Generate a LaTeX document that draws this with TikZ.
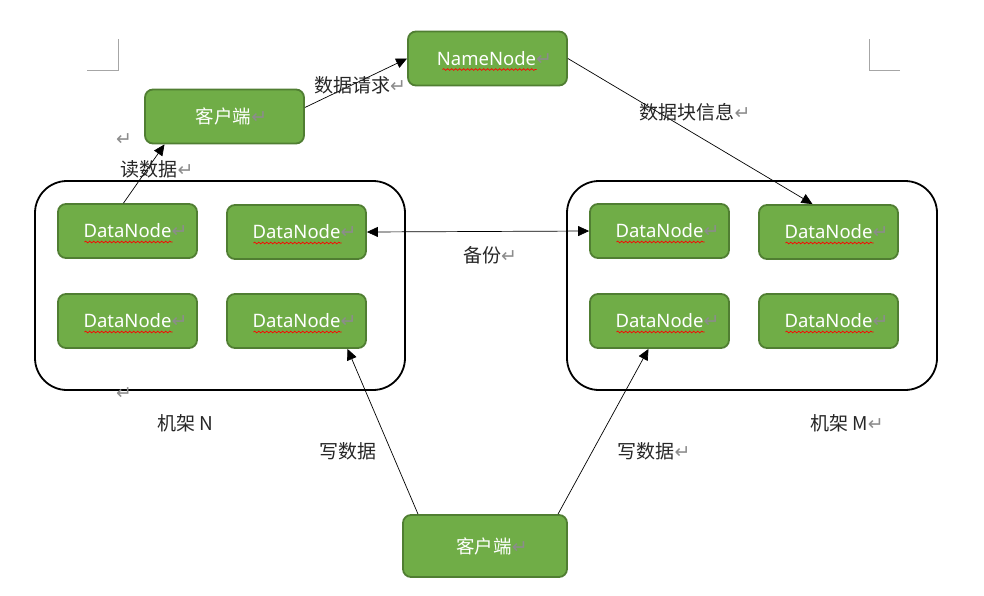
\documentclass[tikz,border=0pt]{standalone}
\usepackage{fontspec}
\setmainfont{Noto Sans}
\newfontfamily\cjk{Noto Sans CJK SC}
\newfontfamily\symfont{DejaVu Sans}
\usetikzlibrary{arrows.meta}
\usetikzlibrary{decorations.pathmorphing}

\definecolor{nodegreen}{HTML}{70AD47}
\definecolor{nodeborder}{HTML}{507E32}
\newcommand{\ret}{{\symfont\fontsize{19}{19}\selectfont\color{black!45}↵}}

\tikzset{
  greenbox/.style={draw=nodeborder, fill=nodegreen, line width=1.8pt, rounded corners=8pt,
    minimum width=139pt, minimum height=54pt, text=white, font=\fontsize{18.5}{21}\selectfont},
  rack/.style={draw, line width=1.8pt, rounded corners=32pt},
  link/.style={line width=0.7pt, -{Triangle[width=10pt,length=11pt]}},
  squiggle/.style={draw=red, line width=0.7pt, decorate,
    decoration={snake, amplitude=0.9pt, segment length=4pt}},
  lbl/.style={font=\fontsize{19}{22}\selectfont\cjk, text=black!85}
}

\begin{document}
\begin{tikzpicture}[x=1pt,y=-1pt]
  \useasboundingbox (0,0) rectangle (984,595);

  % page corner marks
  \draw[gray!70, line width=0.8pt] (87,70) -- (118,70) -- (118,39);
  \draw[gray!70, line width=0.8pt] (900,70) -- (869,70) -- (869,39);

  % racks
  \draw[rack] (35,181) rectangle (405,390);
  \draw[rack] (567,181) rectangle (937,390);

  % name node and clients
  \node[greenbox, minimum width=159pt] (namenode) at (487.5,58.5) {\hspace{14pt}NameNode\ret};
  \node[greenbox, minimum width=159pt] (client1) at (224.5,116.5) {\hspace{14pt}\cjk 客户端\ret};
  \node[greenbox, minimum width=164pt, minimum height=62pt] (client2) at (485,546) {\hspace{14pt}\cjk 客户端\ret};

  % data nodes
  \node[greenbox] (dn1) at (127.5,231) {\hspace{16pt}DataNode\ret};
  \node[greenbox] (dn2) at (296.5,232) {\hspace{16pt}DataNode\ret};
  \node[greenbox] (dn3) at (127.5,321) {\hspace{16pt}DataNode\ret};
  \node[greenbox] (dn4) at (296.5,321) {\hspace{16pt}DataNode\ret};
  \node[greenbox] (dn5) at (659.5,231) {\hspace{16pt}DataNode\ret};
  \node[greenbox] (dn6) at (828.5,232) {\hspace{16pt}DataNode\ret};
  \node[greenbox] (dn7) at (659.5,321) {\hspace{16pt}DataNode\ret};
  \node[greenbox] (dn8) at (828.5,321) {\hspace{16pt}DataNode\ret};

  % spelling marks
  \foreach \n in {dn1,dn2,dn3,dn4,dn5,dn6,dn7,dn8}
    \draw[squiggle] (\n.center) ++(-43,11) -- ++(88,0);
  \draw[squiggle] (namenode.center) ++(-45,11) -- ++(94,0);

  % connectors
  \draw[link] ([xshift=-4pt]dn1.north) -- ([xshift=-60pt]client1.south);
  \draw[link] ([yshift=9pt]client1.east) -- (namenode.west);
  \draw[link] (namenode.east) -- ([xshift=-16pt]dn6.north);
  \draw[line width=0.7pt, {Triangle[width=10pt,length=11pt]}-{Triangle[width=10pt,length=11pt]}] (dn2.east) -- (dn5.west);
  \draw[link] ([xshift=-67pt]client2.north) -- ([xshift=51pt]dn4.south);
  \draw[link] ([xshift=73pt]client2.north) -- ([xshift=-11pt]dn7.south);

  % labels
  \node[lbl] (lrequest) at (360,85) {数据请求\ret};
  \node[lbl] (lblocks) at (695,112) {数据块信息\ret};
  \node[lbl] (lread) at (157,169) {读数据\ret};
  \node[lbl] (lbackup) at (490,255) {备份\ret};
  \node[lbl] (lrackn) at (185,423) {机架 N};
  \node[lbl] (lrackm) at (847,423) {机架 M\ret};
  \node[lbl] (lwrite1) at (348,451) {写数据};
  \node[lbl] (lwrite2) at (654,451) {写数据\ret};
  \node (mark1) at (124,140) {\ret};
  \node (mark2) at (124,394) {\ret};
\end{tikzpicture}
\end{document}
